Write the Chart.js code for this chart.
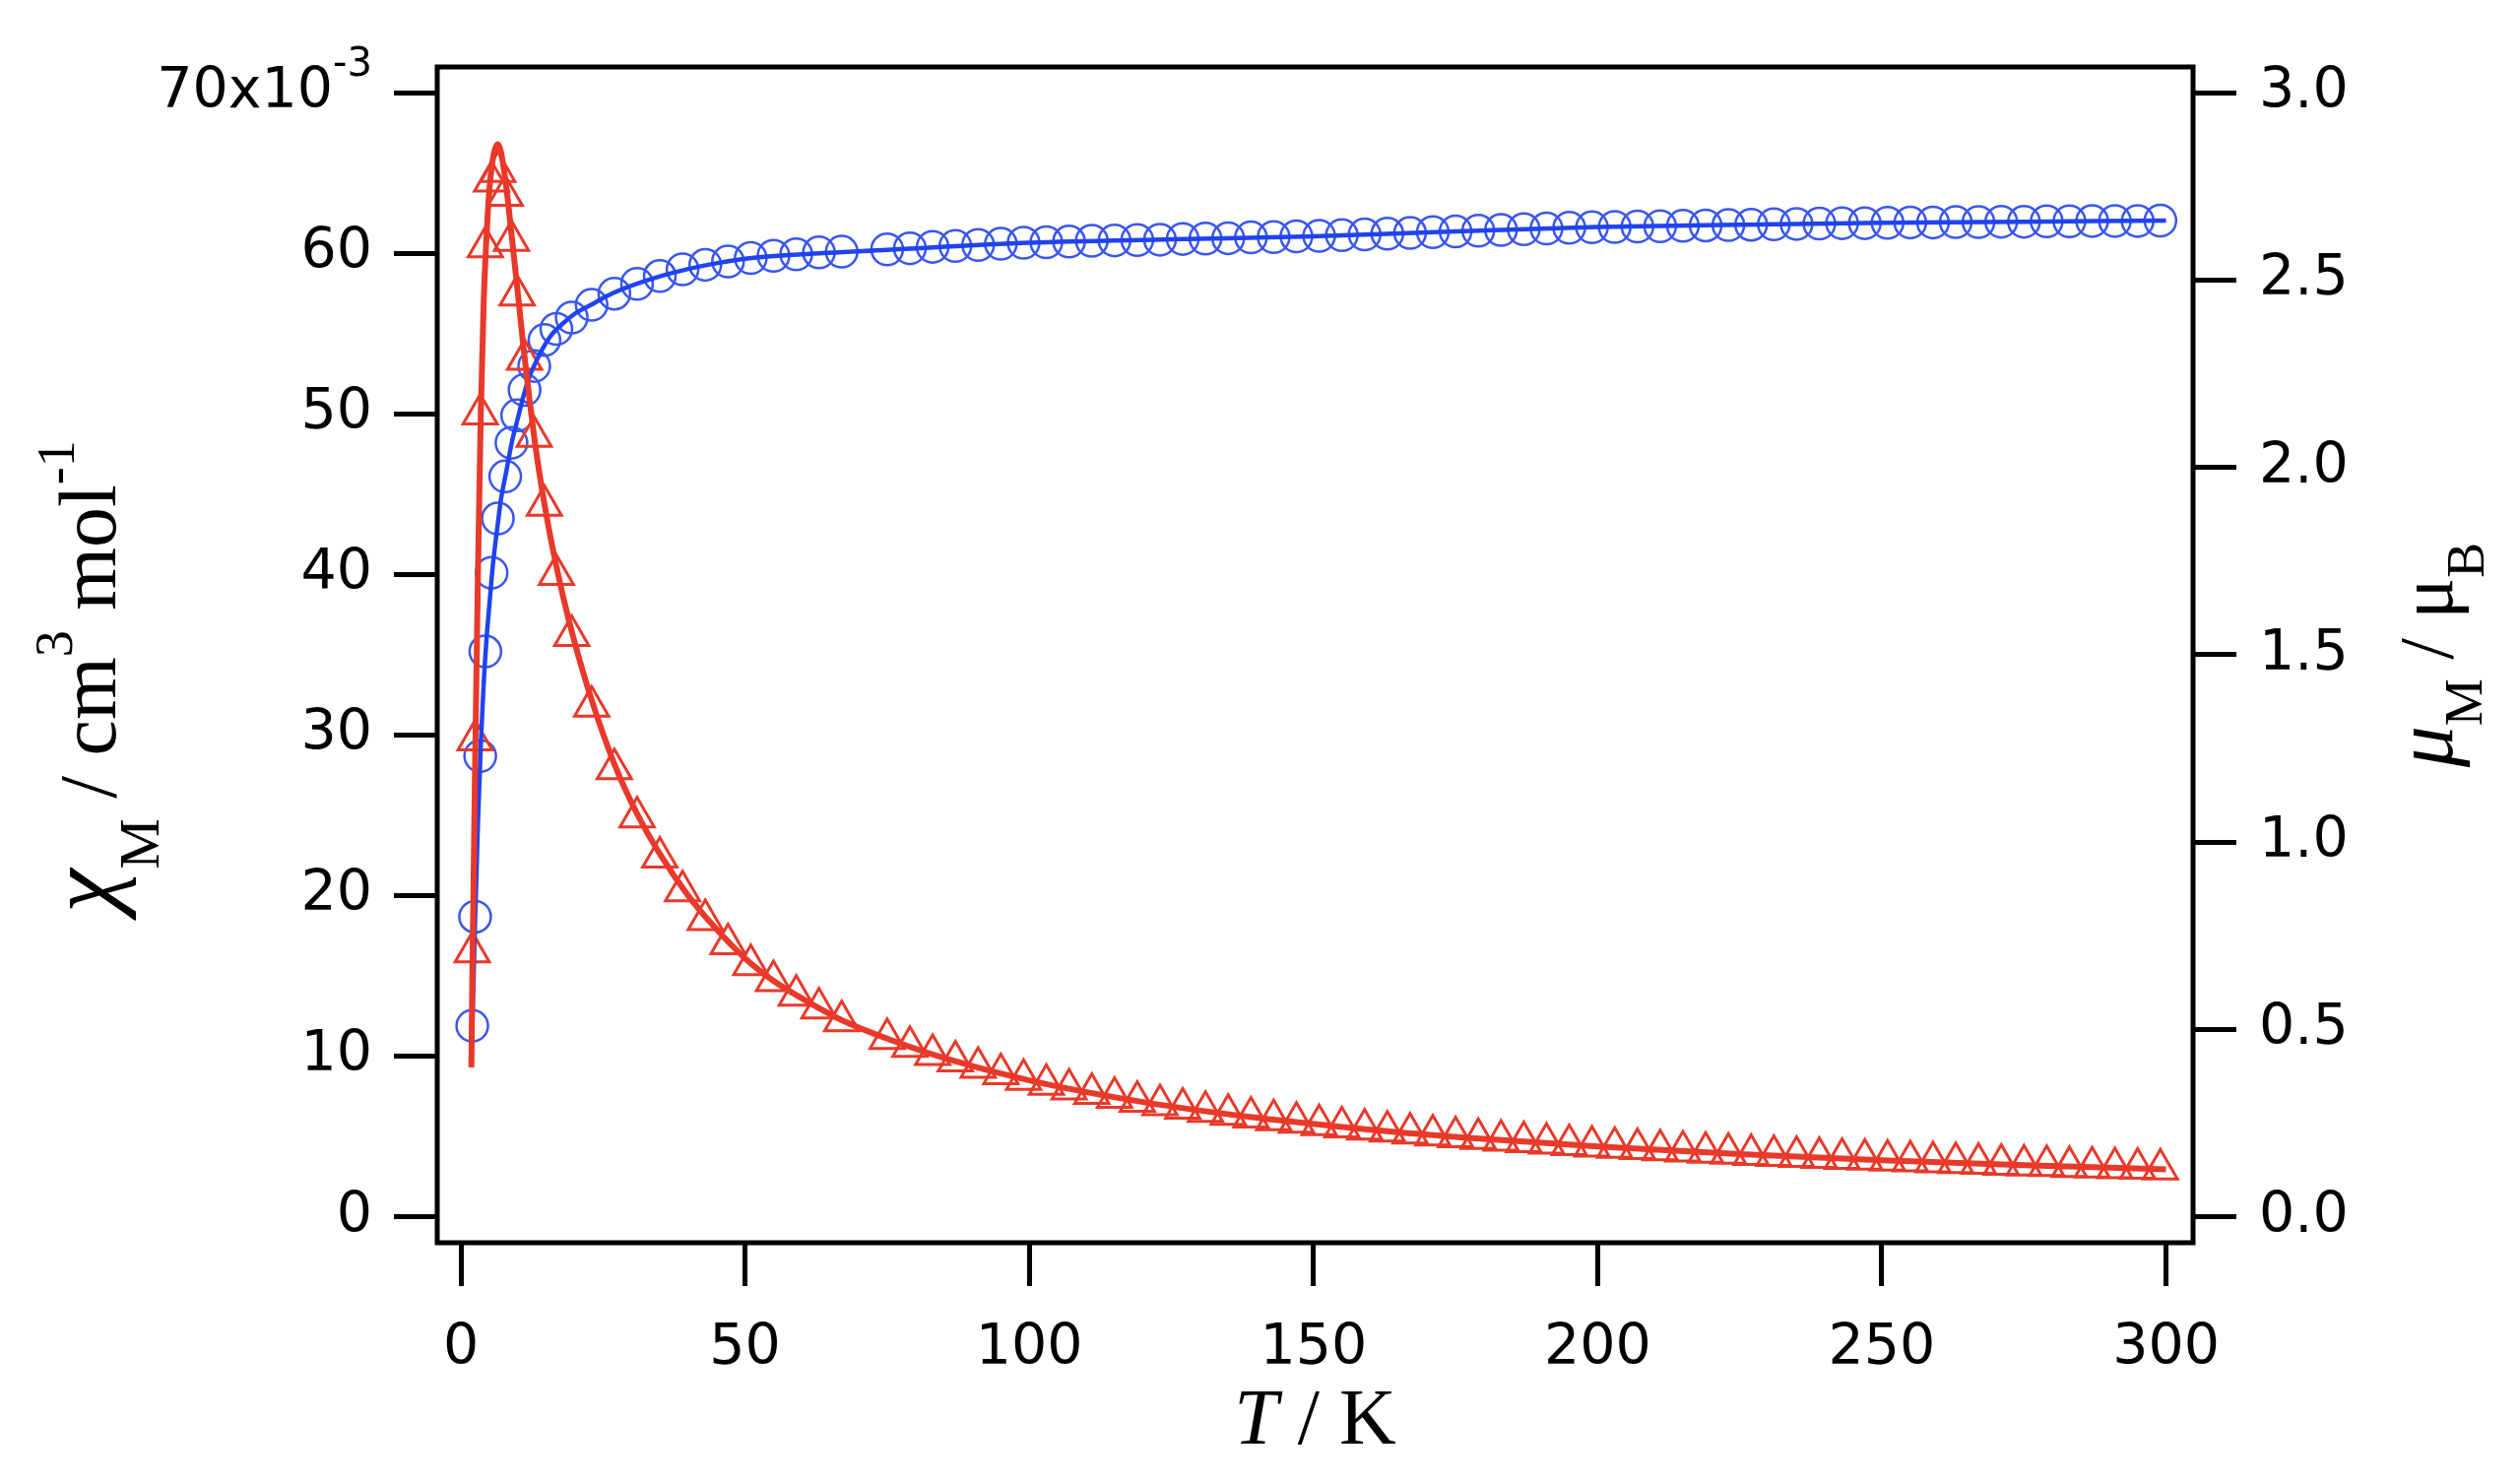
<!DOCTYPE html>
<html>
<head>
<meta charset="utf-8">
<script src="https://cdn.jsdelivr.net/npm/chart.js@4.4.1/dist/chart.umd.min.js"></script>
<style>
  html, body { margin: 0; padding: 0; background: #fff; }
</style>
</head>
<body>
<canvas id="chart" width="2559" height="1506"></canvas>
<script>
// measured temperatures (K), shared by both data series
const temps = [2, 2.5, 3.4, 4.3, 5.4, 6.5, 7.8, 8.9, 9.9, 11.2, 12.9, 14.7, 16.8, 19.5,
  23, 27, 31, 35, 39, 43, 47, 51, 55, 59, 63, 67,
  75, 79, 83, 87, 91, 95, 99, 103, 107, 111, 115, 119, 123, 127, 131, 135, 139, 143, 147, 151,
  155, 159, 163, 167, 171, 175, 179, 183, 187, 191, 195, 199, 203, 207, 211, 215, 219, 223, 227,
  231, 235, 239, 243, 247, 251, 255, 259, 263, 267, 271, 275, 279, 283, 287, 291, 295, 299];

// chi_M in 1e-3 cm3 mol-1 (red triangles, left axis)
const chiData = [16.5, 29.7, 50.0, 60.4, 64.5, 65.1, 63.6, 60.8, 57.4, 53.4, 48.6, 44.3, 40.0, 36.2,
  31.8, 27.9, 24.9, 22.4, 20.3, 18.5, 17.0, 15.7, 14.7, 13.8, 13.0, 12.2,
  11.1, 10.6, 10.1, 9.7, 9.3, 8.9, 8.55, 8.25, 7.95, 7.68, 7.43, 7.19, 6.97, 6.76, 6.56, 6.38, 6.20, 6.03, 5.88, 5.73,
  5.59, 5.45, 5.33, 5.21, 5.09, 4.98, 4.87, 4.77, 4.67, 4.58, 4.49, 4.40, 4.32, 4.24, 4.16, 4.09, 4.02, 3.95, 3.88,
  3.82, 3.75, 3.69, 3.63, 3.58, 3.52, 3.47, 3.42, 3.37, 3.32, 3.27, 3.22, 3.18, 3.13, 3.09, 3.05, 3.01, 2.97];

// mu_M in Bohr magnetons (blue circles, right axis)
const muData = [0.510, 0.801, 1.230, 1.509, 1.719, 1.864, 1.976, 2.066, 2.139, 2.207, 2.271, 2.340, 2.370, 2.400,
  2.434, 2.464, 2.490, 2.511, 2.529, 2.541, 2.550, 2.559, 2.565, 2.569, 2.574, 2.576,
  2.582, 2.585, 2.589, 2.591, 2.594, 2.597, 2.600, 2.601, 2.603, 2.605, 2.606, 2.607, 2.608, 2.610, 2.611, 2.612, 2.614, 2.615, 2.617, 2.618,
  2.620, 2.622, 2.624, 2.626, 2.628, 2.630, 2.632, 2.634, 2.636, 2.638, 2.640, 2.641, 2.642, 2.643, 2.644, 2.645, 2.646, 2.647, 2.648,
  2.649, 2.650, 2.651, 2.652, 2.652, 2.653, 2.654, 2.654, 2.655, 2.655, 2.656, 2.656, 2.657, 2.657, 2.658, 2.658, 2.658, 2.659];

// fitted curves
const chiFitT = [1.85, 2, 2.5, 3, 3.5, 4, 4.5, 5, 5.5, 6, 6.5, 7, 7.5, 8, 9, 10, 11, 12, 13, 14, 15, 16, 18, 20,
  23, 27, 31, 35, 40, 45, 50, 55, 60, 67, 75, 85, 100, 120, 140, 160, 180, 200, 225, 250, 275, 300];
const chiFit = [9.3, 14.5, 28.0, 40.0, 50.0, 56.8, 61.0, 63.9, 65.6, 66.5, 66.8, 66.4, 65.4, 64.1, 60.9, 57.6, 54.2, 51.1, 48.3, 45.9, 43.8, 41.9, 38.6, 35.8,
  32.2, 28.2, 25.1, 22.6, 20.0, 17.9, 16.1, 14.7, 13.6, 12.25, 11.1, 9.9, 8.5, 7.15, 6.17, 5.43, 4.85, 4.38, 3.91, 3.53, 3.22, 2.96];

const muFitT = [1.85, 2, 2.5, 3, 3.5, 4, 4.5, 5, 5.5, 6, 6.5, 7, 8, 9, 10, 11, 12, 13, 14.5, 16, 18, 20,
  23, 26, 30, 35, 40, 45, 50, 60, 75, 100, 125, 150, 175, 200, 225, 250, 275, 300];
const muFit = [0.40, 0.50, 0.79, 1.05, 1.26, 1.42, 1.54, 1.63, 1.72, 1.79, 1.85, 1.91, 1.99, 2.07, 2.13, 2.19, 2.24, 2.275, 2.32, 2.355, 2.385, 2.41,
  2.435, 2.46, 2.485, 2.51, 2.53, 2.545, 2.557, 2.569, 2.581, 2.600, 2.609, 2.617, 2.630, 2.642, 2.648, 2.653, 2.656, 2.659];

// tick values
const tTicks = [0, 50, 100, 150, 200, 250, 300];
const chiTicks = [0, 10, 20, 30, 40, 50, 60, 70];
const muTicks = [0, 0.5, 1.0, 1.5, 2.0, 2.5, 3.0];

const RED = "#e8392a";
const BLUE = "#1f43f0";
const TICK_FONT = { family: "DejaVu Sans", size: 57 };

function pairs(xs, ys) {
    return xs.map((x, i) => ({ x: x, y: ys[i] }));
}

function drawRuns(ctx, runs, x, y, angle) {
    ctx.save();
    ctx.translate(x, y);
    ctx.rotate(angle);
    ctx.textAlign = "left";
    ctx.textBaseline = "alphabetic";
    let total = 0;
    runs.forEach(r => {
        ctx.font = r.font;
        r.w = ctx.measureText(r.text).width;
        total += r.w;
    });
    let cx = -total / 2;
    runs.forEach(r => {
        ctx.font = r.font;
        ctx.fillText(r.text, cx, r.dy || 0);
        cx += r.w;
    });
    ctx.restore();
}

const decor = {
    id: "decor",
    afterDraw(chart) {
        const { ctx, chartArea: a, scales } = chart;
        ctx.save();
        ctx.strokeStyle = "#000";
        ctx.lineWidth = 5;
        ctx.strokeRect(a.left, a.top, a.right - a.left, a.bottom - a.top);

        // top left tick label 70x10^-3
        ctx.fillStyle = "#000";
        const ty = scales.y.getPixelForValue(70);
        const rightEdge = a.left - 44 - 22;
        ctx.font = "40px 'DejaVu Sans'";
        const supW = ctx.measureText("-3").width;
        ctx.textAlign = "left";
        ctx.textBaseline = "alphabetic";
        ctx.fillText("-3", rightEdge - supW, ty - 17);
        ctx.font = "57px 'DejaVu Sans'";
        ctx.textAlign = "right";
        ctx.textBaseline = "middle";
        ctx.fillText("70x10", rightEdge - supW, ty);

        const serif = "'Liberation Serif'";
        // x title
        drawRuns(ctx, [
            { text: "T", font: "italic 80px " + serif },
            { text: " / K", font: "80px " + serif }
        ], (a.left + a.right) / 2, 1466, 0);

        // left title
        drawRuns(ctx, [
            { text: "\u03c7", font: "italic 100px " + serif },
            { text: "M", font: "58px " + serif, dy: 44 },
            { text: " / cm", font: "82px " + serif },
            { text: "3", font: "54px " + serif, dy: -44 },
            { text: " mol", font: "82px " + serif },
            { text: "-1", font: "54px " + serif, dy: -42 }
        ], 117, (a.top + a.bottom) / 2 + 22, -Math.PI / 2);

        // right title
        drawRuns(ctx, [
            { text: "\u03bc", font: "italic 84px " + serif },
            { text: "M", font: "54px " + serif, dy: 30 },
            { text: " / ", font: "78px " + serif },
            { text: "\u03bc", font: "78px " + serif },
            { text: "B", font: "54px " + serif, dy: 32 }
        ], 2490, (a.top + a.bottom) / 2, -Math.PI / 2);
        ctx.restore();
    }
};

const tickGrid = {
    display: true,
    drawOnChartArea: false,
    drawTicks: true,
    tickLength: 44,
    tickWidth: 5,
    tickColor: "#000",
    color: "#000",
    lineWidth: 5
};

new Chart(document.getElementById("chart"), {
    type: "scatter",
    data: {
        datasets: [
            {
                label: "chi fit",
                data: pairs(chiFitT, chiFit),
                yAxisID: "y",
                showLine: true,
                borderColor: RED,
                borderWidth: 6,
                pointRadius: 0,
                cubicInterpolationMode: "monotone"
            },
            {
                label: "mu fit",
                data: pairs(muFitT, muFit),
                yAxisID: "y1",
                showLine: true,
                borderColor: BLUE,
                borderWidth: 4.5,
                pointRadius: 0,
                cubicInterpolationMode: "monotone"
            },
            {
                label: "chi",
                data: pairs(temps, chiData),
                yAxisID: "y",
                showLine: false,
                pointStyle: "triangle",
                pointRadius: 20,
                pointBorderWidth: 3,
                pointBorderColor: RED,
                pointBackgroundColor: "rgba(0,0,0,0)"
            },
            {
                label: "mu",
                data: pairs(temps, muData),
                yAxisID: "y1",
                showLine: false,
                pointStyle: "circle",
                pointRadius: 16,
                pointBorderWidth: 2.5,
                pointBorderColor: "#3a56f0",
                pointBackgroundColor: "rgba(0,0,0,0)"
            }
        ]
    },
    options: {
        responsive: false,
        animation: false,
        devicePixelRatio: 1,
        layout: { padding: { top: 68, left: 0, right: 0, bottom: 0 } },
        plugins: {
            legend: { display: false },
            tooltip: { enabled: false }
        },
        scales: {
            x: {
                type: "linear",
                position: "bottom",
                min: -4.16,
                max: 304.75,
                afterBuildTicks: s => { s.ticks = tTicks.map(v => ({ value: v })); },
                afterFit: s => { s.height = 244; },
                grid: tickGrid,
                border: { display: false },
                ticks: { color: "#000", font: TICK_FONT, padding: 30, maxRotation: 0,
                    callback: v => String(v) }
            },
            y: {
                type: "linear",
                position: "left",
                min: -1.613,
                max: 71.61,
                afterBuildTicks: s => { s.ticks = chiTicks.map(v => ({ value: v })); },
                afterFit: s => { s.width = 444; },
                grid: tickGrid,
                border: { display: false },
                ticks: { color: "#000", font: TICK_FONT, padding: 22,
                    callback: v => (v === 70 ? "" : String(v)) }
            },
            y1: {
                type: "linear",
                position: "right",
                min: -0.0691,
                max: 3.069,
                afterBuildTicks: s => { s.ticks = muTicks.map(v => ({ value: v })); },
                afterFit: s => { s.width = 332; },
                grid: tickGrid,
                border: { display: false },
                ticks: { color: "#000", font: TICK_FONT, padding: 23,
                    callback: v => v.toFixed(1) }
            }
        }
    },
    plugins: [decor]
});
</script>
</body>
</html>
